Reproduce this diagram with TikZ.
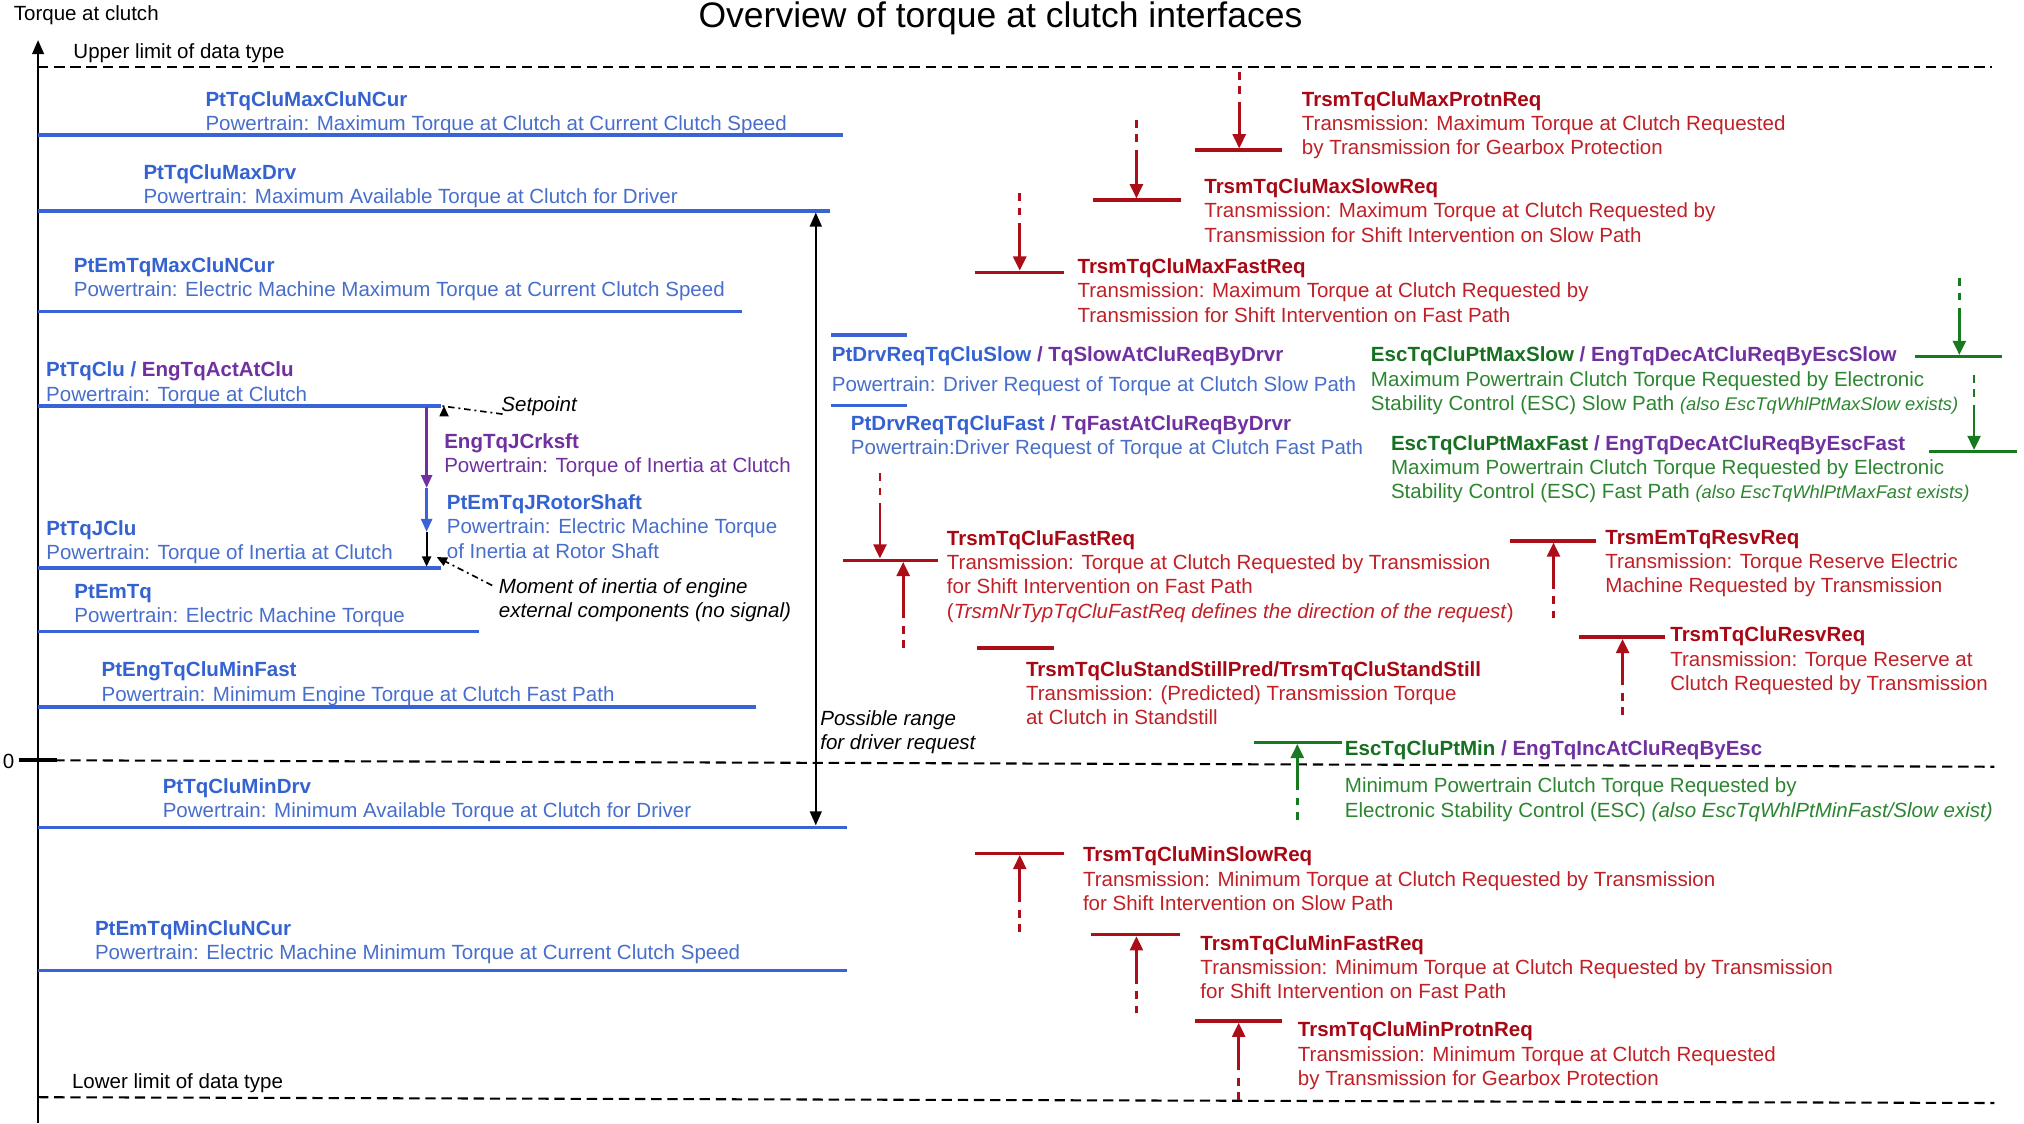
\documentclass[tikz,border=0pt]{standalone}
\usepackage{fontspec}
\setmainfont{Liberation Sans}
\usetikzlibrary{arrows.meta}

\definecolor{blueH}{RGB}{52,98,208}
\definecolor{blueD}{RGB}{72,110,204}
\definecolor{blueL}{RGB}{58,100,214}
\definecolor{purp}{RGB}{112,48,160}
\definecolor{redH}{RGB}{168,8,20}
\definecolor{redD}{RGB}{192,32,38}
\definecolor{redL}{RGB}{172,14,24}
\definecolor{greenH}{RGB}{22,112,32}
\definecolor{greenD}{RGB}{44,134,48}
\definecolor{greenL}{RGB}{24,122,32}

\newcommand\lblfont{\fontsize{15.9}{18.8}\selectfont}
\newcommand\smallalso{\fontsize{14.2}{18.8}\selectfont}

\tikzset{
  lbl/.style={anchor=north west, inner sep=0pt, align=left, font=\lblfont, yshift=13.16pt},
  txt/.style={anchor=base west, inner sep=0pt, font=\lblfont},
  level/.style={line width=2.6pt, draw=blueL},
  limit/.style={line width=1.6pt, dash pattern=on 8pt off 4.5pt},
  rbar/.style={line width=2.6pt, draw=redL},
  gbar/.style={line width=2.6pt, draw=greenL},
  req/.style={line width=2.2pt, dash pattern=on 6pt off 5pt on 6pt off 6pt on 400pt,
              -{Triangle[length=11pt,width=10pt]}},
  chain/.style={line width=2pt, -{Triangle[length=10pt,width=8.5pt]}},
  hint/.style={line width=1.3pt, dash pattern=on 5pt off 3pt on 1.5pt off 3pt,
               -{Triangle[length=8pt,width=7pt]}},
}

\begin{document}
\begin{tikzpicture}[x=1pt,y=-1pt]
\useasboundingbox[fill=white] (0,0) rectangle (1568,870);

% ---------- axis and limits ----------
\coordinate (axB) at (29.5,870);
\coordinate (axT) at (29.5,31);
\draw[line width=2pt, -{Triangle[length=11pt,width=9pt]}] (axB) -- (axT);
\coordinate (upL) at (29.5,51.6);  \coordinate (upR) at (1543,51.6);
\coordinate (zeL) at (42,589);     \coordinate (zeR) at (1545,594);
\coordinate (loL) at (29.5,850);   \coordinate (loR) at (1545,854.5);
\coordinate (tk1) at (14.7,588.8); \coordinate (tk2) at (44,588.8);
\draw[limit] (upL) -- (upR);
\draw[limit] (zeL) -- (zeR);
\draw[limit] (loL) -- (loR);
\draw[line width=2.6pt] (tk1) -- (tk2);

% ---------- powertrain levels ----------
\foreach \nm/\yy/\xe in {l1/104.6/653, l2/163.5/643, l3/241.5/575, l4/314.5/342,
                         l5/440/342, l6/489/371, l7/547.6/586, l8/641/656, l9/752/656}{
  \coordinate (\nm a) at (29.5,\yy);
  \coordinate (\nm b) at (\xe,\yy);
  \draw[level] (\nm a) -- (\nm b);
}
\coordinate (ds1a) at (644,259.5); \coordinate (ds1b) at (703,259.5);
\coordinate (ds2a) at (644,314);   \coordinate (ds2b) at (703,314);
\draw[level] (ds1a) -- (ds1b);
\draw[level] (ds2a) -- (ds2b);

% ---------- driver request range ----------
\coordinate (rgT) at (632,164.5);
\coordinate (rgB) at (632,639.5);
\draw[line width=2pt, {Triangle[length=11pt,width=9pt]}-{Triangle[length=11pt,width=9pt]}] (rgT) -- (rgB);

% ---------- inertia chain ----------
\coordinate (c0) at (330.5,315.5);
\coordinate (c1) at (330.5,378);
\coordinate (c2) at (330.5,412);
\coordinate (c3) at (330.5,439);
\draw[chain, purp] (c0) -- (c1);
\draw[chain, blueL] (c1) -- (c2);
\draw[line width=1.6pt, -{Triangle[length=8pt,width=7pt]}] (c2) -- (c3);

% ---------- transmission bars ----------
\foreach \nm/\xa/\xb/\yy in {bMxP/925.8/992.9/116.2, bMxS/846.6/915/155, bMxF/755.4/824/211,
                              bFR/653/727/434, bSS/757/816.5/502, bEmR/1170/1236.6/419,
                              bClR/1223/1290/493.6, bMnS/755.4/824/661, bMnF/845.3/913.8/724,
                              bMnP/925.6/993.5/791}{
  \coordinate (\nm a) at (\xa,\yy);
  \coordinate (\nm b) at (\xb,\yy);
  \draw[rbar] (\nm a) -- (\nm b);
}
\foreach \nm/\xa/\xb/\yy in {gMxS/1483.6/1550.7/276.3, gMxF/1494.7/1562.4/349.9, gMn/971.5/1040/575}{
  \coordinate (\nm a) at (\xa,\yy);
  \coordinate (\nm b) at (\xb,\yy);
  \draw[gbar] (\nm a) -- (\nm b);
}

% ---------- request arrows ----------
\foreach \nm/\xx/\ya/\yb in {aMxP/960/56/115, aMxS/880.4/93/153.7, aMxF/790/149.8/209.7,
                             aFRd/681.7/366.7/432.7, aFRu/699.7/502/435.3,
                             aEmR/1203.5/479/420.3, aClR/1257/554/495,
                             aMnS/790/722/662.3, aMnF/880.4/785/725.3, aMnP/959.6/852/792.3}{
  \coordinate (\nm s) at (\xx,\ya);
  \coordinate (\nm e) at (\xx,\yb);
  \draw[req, redL] (\nm s) -- (\nm e);
}
\foreach \nm/\xx/\ya/\yb in {eMxS/1517.9/215.6/275, eMxF/1529.3/290.5/348.6, eMn/1005/635/576.3}{
  \coordinate (\nm s) at (\xx,\ya);
  \coordinate (\nm e) at (\xx,\yb);
  \draw[req, greenL] (\nm s) -- (\nm e);
}

% ---------- axis texts ----------
\node[anchor=base west, inner sep=0pt, font=\fontsize{27.5}{30}\selectfont] (title) at (541,21)
  {Overview of torque at clutch interfaces};
\node[txt] (yname) at (10.5,16) {Torque at clutch};
\node[txt] (uplim) at (56.7,45.2) {Upper limit of data type};
\node[txt] (lolim) at (55.6,843.2) {Lower limit of data type};
\node[txt] (zero) at (2,595) {0};

% ---------- powertrain labels ----------
\node[lbl, text=blueD] (tMaxClu) at (159,82.2)
  {\strut\textcolor{blueH}{\bfseries PtTqCluMaxCluNCur}\\\strut Powertrain: Maximum  Torque at Clutch at Current Clutch Speed};
\node[lbl, text=blueD] (tMaxDrv) at (111,138.9)
  {\strut\textcolor{blueH}{\bfseries PtTqCluMaxDrv}\\\strut Powertrain: Maximum  Available  Torque at Clutch for Driver};
\node[lbl, text=blueD] (tEmMax) at (57,211)
  {\strut\textcolor{blueH}{\bfseries PtEmTqMaxCluNCur}\\\strut Powertrain: Electric Machine Maximum  Torque at Current Clutch Speed};
\node[lbl, text=blueD] (tClu) at (35.6,291.8)
  {\strut{\bfseries\textcolor{blueH}{PtTqClu /} \textcolor{purp}{EngTqActAtClu}}\\\strut Powertrain: Torque at Clutch};
\node[lbl, text=purp] (tJCrk) at (344,347.3)
  {\strut{\bfseries EngTqJCrksft}\\\strut Powertrain: Torque of Inertia at Clutch};
\node[lbl, text=blueD] (tJRot) at (346,394.6)
  {\strut\textcolor{blueH}{\bfseries PtEmTqJRotorShaft}\\\strut Powertrain: Electric Machine Torque\\\strut of Inertia at Rotor Shaft};
\node[lbl, text=blueD] (tJClu) at (35.7,414.5)
  {\strut\textcolor{blueH}{\bfseries PtTqJClu}\\\strut Powertrain: Torque of Inertia at Clutch};
\node[lbl, text=blueD] (tEm) at (57.5,463.5)
  {\strut\textcolor{blueH}{\bfseries PtEmTq}\\\strut Powertrain: Electric Machine Torque};
\node[lbl, text=blueD] (tMinFast) at (78.5,524.2)
  {\strut\textcolor{blueH}{\bfseries PtEngTqCluMinFast}\\\strut Powertrain: Minimum  Engine Torque at Clutch Fast Path};
\node[lbl, text=blueD] (tMinDrv) at (125.9,614.6)
  {\strut\textcolor{blueH}{\bfseries PtTqCluMinDrv}\\\strut Powertrain: Minimum  Available  Torque at Clutch for Driver};
\node[lbl, text=blueD] (tEmMin) at (73.4,724.4)
  {\strut\textcolor{blueH}{\bfseries PtEmTqMinCluNCur}\\\strut Powertrain: Electric Machine Minimum Torque at Current Clutch Speed};

\node[txt, font=\lblfont\itshape] (tSet) at (388.3,318.9) {Setpoint};
\node[lbl, font=\lblfont\itshape] (tMom) at (386.3,459.7)
  {\strut Moment of inertia of engine\\\strut external components (no signal)};
\node[lbl, font=\lblfont\itshape] (tRange) at (635.3,561.7)
  {\strut Possible range\\\strut for driver request};

\draw[hint] (tSet.west) ++(1,6) -- (l4b) ++(2,0);
\draw[hint] (tMom.north west) ++(-5,7) -- ++(-43,-22);

% ---------- driver request labels ----------
\node[lbl, text=blueD] (tDrvS) at (644.2,280.2)
  {\strut{\bfseries\textcolor{blueH}{PtDrvReqTqCluSlow} \textcolor{purp}{/ TqSlowAtCluReqByDrvr}}\\[4.4pt]\strut Powertrain: Driver Request  of Torque at Clutch Slow Path};
\node[lbl, text=blueD] (tDrvF) at (659,333.1)
  {\strut{\bfseries\textcolor{blueH}{PtDrvReqTqCluFast} \textcolor{purp}{/ TqFastAtCluReqByDrvr}}\\\strut Powertrain:Driver Request  of Torque at Clutch Fast Path};

% ---------- transmission labels ----------
\node[lbl, text=redD] (tMxP) at (1008.4,82.1)
  {\strut\textcolor{redH}{\bfseries TrsmTqCluMaxProtnReq}\\\strut Transmission:  Maximum  Torque at Clutch Requested\\\strut by Transmission  for Gearbox  Protection};
\node[lbl, text=redD] (tMxS) at (932.8,149.8)
  {\strut\textcolor{redH}{\bfseries TrsmTqCluMaxSlowReq}\\\strut Transmission:  Maximum  Torque at Clutch Requested  by\\\strut Transmission  for Shift Intervention  on Slow Path};
\node[lbl, text=redD] (tMxF) at (834.6,211.8)
  {\strut\textcolor{redH}{\bfseries TrsmTqCluMaxFastReq}\\\strut Transmission:  Maximum  Torque at Clutch Requested  by\\\strut Transmission  for Shift Intervention  on Fast Path};
\node[lbl, text=redD] (tFR) at (733.4,422.2)
  {\strut\textcolor{redH}{\bfseries TrsmTqCluFastReq}\\\strut Transmission:  Torque at Clutch Requested  by Transmission\\\strut for Shift Intervention  on Fast Path\\\strut(\textit{TrsmNrTypTqCluFastReq defines the direction of the request})};
\node[lbl, text=redD] (tSS) at (794.7,523.7)
  {\strut\textcolor{redH}{\bfseries TrsmTqCluStandStillPred/TrsmTqCluStandStill}\\\strut Transmission:  (Predicted) Transmission  Torque\\\strut at Clutch in Standstill};
\node[lbl, text=redD] (tEmR) at (1243.5,421.4)
  {\strut\textcolor{redH}{\bfseries TrsmEmTqResvReq}\\\strut Transmission:  Torque Reserve  Electric\\\strut Machine Requested  by Transmission};
\node[lbl, text=redD] (tClR) at (1293.8,497.1)
  {\strut\textcolor{redH}{\bfseries TrsmTqCluResvReq}\\\strut Transmission:  Torque Reserve  at\\\strut Clutch Requested  by Transmission};
\node[lbl, text=redD] (tMnS) at (838.8,667.5)
  {\strut\textcolor{redH}{\bfseries TrsmTqCluMinSlowReq}\\\strut Transmission:  Minimum  Torque at Clutch Requested  by Transmission\\\strut for Shift Intervention  on Slow Path};
\node[lbl, text=redD] (tMnF) at (929.8,736)
  {\strut\textcolor{redH}{\bfseries TrsmTqCluMinFastReq}\\\strut Transmission:  Minimum  Torque at Clutch Requested  by Transmission\\\strut for Shift Intervention  on Fast Path};
\node[lbl, text=redD] (tMnP) at (1005.3,803.1)
  {\strut\textcolor{redH}{\bfseries TrsmTqCluMinProtnReq}\\\strut Transmission:  Minimum  Torque at Clutch Requested\\\strut by Transmission  for Gearbox  Protection};

% ---------- ESC labels ----------
\node[lbl, text=greenD] (tEMxS) at (1061.9,280.2)
  {\strut{\bfseries\textcolor{greenH}{EscTqCluPtMaxSlow} \textcolor{purp}{/ EngTqDecAtCluReqByEscSlow}}\\\strut Maximum  Powertrain Clutch Torque Requested  by Electronic\\\strut Stability Control  (ESC) Slow Path {\smallalso\itshape (also EscTqWhlPtMaxSlow exists)}};
\node[lbl, text=greenD] (tEMxF) at (1077.4,348.6)
  {\strut{\bfseries\textcolor{greenH}{EscTqCluPtMaxFast} \textcolor{purp}{/ EngTqDecAtCluReqByEscFast}}\\\strut Maximum  Powertrain Clutch Torque Requested  by Electronic\\\strut Stability Control  (ESC) Fast Path {\smallalso\itshape (also EscTqWhlPtMaxFast exists)}};
\node[lbl, text=greenD] (tEMn) at (1041.7,584.9)
  {\strut{\bfseries\textcolor{greenH}{EscTqCluPtMin} \textcolor{purp}{/ EngTqIncAtCluReqByEsc}}\\[10.4pt]\strut Minimum  Powertrain Clutch Torque Requested  by\\\strut Electronic Stability Control (ESC) {\itshape (also EscTqWhlPtMinFast/Slow exist)}};
\end{tikzpicture}
\end{document}
